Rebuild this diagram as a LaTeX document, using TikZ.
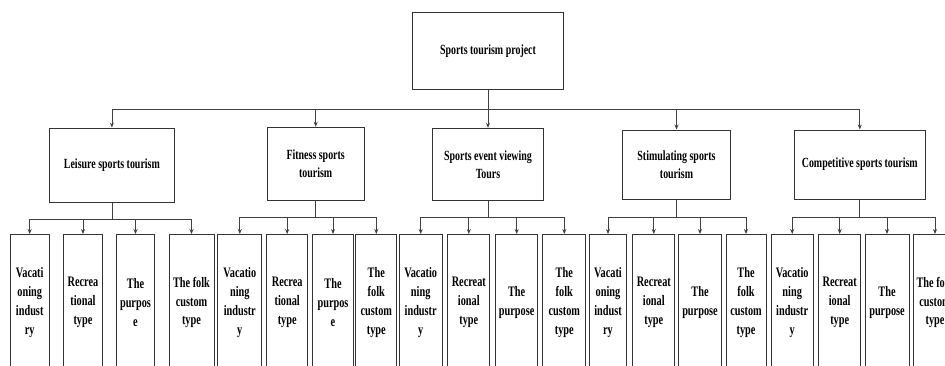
\documentclass[tikz,border=0pt]{standalone}
\usepackage{fontspec}
\setmainfont{Liberation Serif}[FakeStretch=0.71]
\usepackage{tikz}
\usetikzlibrary{arrows.meta}

\begin{document}
\begin{tikzpicture}[x=1pt,y=-1pt,
    box/.style={draw=black!80,line width=1pt,align=center,inner sep=0pt,
        font=\bfseries\fontsize{14}{18.3}\selectfont},
    leaf/.style={box,anchor=north,minimum height=136pt,
        font=\bfseries\fontsize{14.5}{18.9}\selectfont},
    link/.style={draw=black!75,line width=0.8pt},
    arr/.style={link,-{Stealth[length=5pt,width=4pt]}}]
    \clip (0,0) rectangle (945,365);

    %Project
    \node[box,minimum width=150.6pt,minimum height=76.7pt] (proj) at (488,50.7) {Sports tourism project};

    %Types
    \node[box,minimum width=125.7pt,minimum height=74.7pt] (leis) at (111.9,165.4) {Leisure sports tourism};
    \node[box,minimum width=96.7pt,minimum height=73.4pt] (fit) at (315.7,164) {Fitness sports\\tourism};
    \node[box,minimum width=110.6pt,minimum height=72.4pt] (view) at (488,164.5) {Sports event viewing\\Tours};
    \node[box,minimum width=108.4pt,minimum height=69pt] (stim) at (676.5,164.5) {Stimulating sports\\tourism};
    \node[box,minimum width=131pt,minimum height=69pt] (comp) at (859.8,164.5) {Competitive sports tourism};

    %Leisure leaves
    \node[leaf,minimum width=38.7pt] (leis1) at (29.7,234) {Vacati\\oning\\indust\\ry};
    \node[leaf,minimum width=38.6pt] (leis2) at (83,234) {Recrea\\tional\\type};
    \node[leaf,minimum width=37.6pt] (leis3) at (135.5,234) {The\\purpos\\e};
    \node[leaf,minimum width=45pt] (leis4) at (191.5,234) {The folk\\custom\\type};

    %Fitness leaves
    \node[leaf,minimum width=43.7pt] (fit1) at (239.8,234) {Vacatio\\ning\\industr\\y};
    \node[leaf,minimum width=41pt] (fit2) at (287.2,234) {Recrea\\tional\\type};
    \node[leaf,minimum width=40.6pt] (fit3) at (333,234) {The\\purpos\\e};
    \node[leaf,minimum width=40.7pt] (fit4) at (376.3,234) {The\\folk\\custom\\type};

    %Viewing leaves
    \node[leaf,minimum width=43.3pt] (view1) at (420.7,234) {Vacatio\\ning\\industr\\y};
    \node[leaf,minimum width=42.3pt] (view2) at (468.8,234) {Recreat\\ional\\type};
    \node[leaf,minimum width=42pt] (view3) at (516.7,234) {The\\purpose};
    \node[leaf,minimum width=43.3pt] (view4) at (564.3,234) {The\\folk\\custom\\type};

    %Stimulating leaves
    \node[leaf,minimum width=37.4pt] (stim1) at (608,234) {Vacati\\oning\\indust\\ry};
    \node[leaf,minimum width=42.3pt] (stim2) at (653.8,234) {Recreat\\ional\\type};
    \node[leaf,minimum width=43.4pt] (stim3) at (700,234) {The\\purpose};
    \node[leaf,minimum width=40pt] (stim4) at (746,234) {The\\folk\\custom\\type};

    %Competitive leaves
    \node[leaf,minimum width=42.3pt] (comp1) at (792.2,234) {Vacatio\\ning\\industr\\y};
    \node[leaf,minimum width=42pt] (comp2) at (839.7,234) {Recreat\\ional\\type};
    \node[leaf,minimum width=44pt] (comp3) at (887,234) {The\\purpose};
    \node[leaf,minimum width=43.4pt] (comp4) at (935,234) {The folk\\custom\\type};

    % Bus points
    \coordinate (projbus) at (488,109);
    \coordinate (leisbus) at (111.9,219);
    \coordinate (fitbus) at (315.7,217.5);
    \coordinate (viewbus) at (488,217.5);
    \coordinate (stimbus) at (676.5,217);
    \coordinate (compbus) at (859.8,217);

    % Project to types
    \draw[link] (proj.south) -- (projbus);
    \draw[arr] (projbus) -| (leis.north);
    \draw[arr] (projbus) -| (fit.north);
    \draw[arr] (projbus) -| (view.north);
    \draw[arr] (projbus) -| (stim.north);
    \draw[arr] (projbus) -| (comp.north);

    % Types to leaves
    \draw[link] (leis.south) -- (leisbus);
    \draw[arr] (leisbus) -| (leis1.north);
    \draw[arr] (leisbus) -| (leis2.north);
    \draw[arr] (leisbus) -| (leis3.north);
    \draw[arr] (leisbus) -| (leis4.north);

    \draw[link] (fit.south) -- (fitbus);
    \draw[arr] (fitbus) -| (fit1.north);
    \draw[arr] (fitbus) -| (fit2.north);
    \draw[arr] (fitbus) -| (fit3.north);
    \draw[arr] (fitbus) -| (fit4.north);

    \draw[link] (view.south) -- (viewbus);
    \draw[arr] (viewbus) -| (view1.north);
    \draw[arr] (viewbus) -| (view2.north);
    \draw[arr] (viewbus) -| (view3.north);
    \draw[arr] (viewbus) -| (view4.north);

    \draw[link] (stim.south) -- (stimbus);
    \draw[arr] (stimbus) -| (stim1.north);
    \draw[arr] (stimbus) -| (stim2.north);
    \draw[arr] (stimbus) -| (stim3.north);
    \draw[arr] (stimbus) -| (stim4.north);

    \draw[link] (comp.south) -- (compbus);
    \draw[arr] (compbus) -| (comp1.north);
    \draw[arr] (compbus) -| (comp2.north);
    \draw[arr] (compbus) -| (comp3.north);
    \draw[arr] (compbus) -| (comp4.north);

\end{tikzpicture}
\end{document}
